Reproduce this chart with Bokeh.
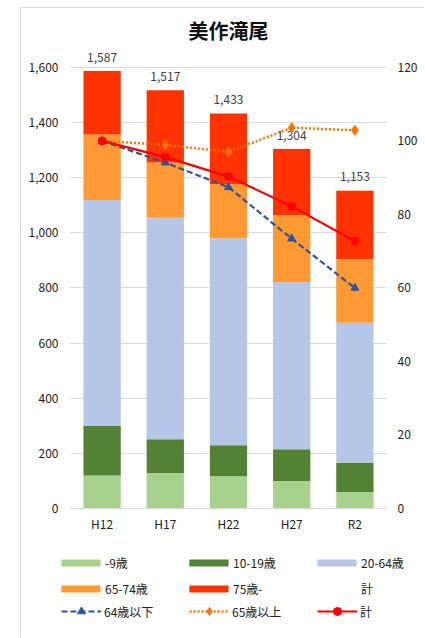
from bokeh.plotting import figure
from bokeh.models import (ColumnDataSource, Range1d, LinearAxis, Legend, LegendItem,
                          NumeralTickFormatter, FactorRange, Spacer)
from bokeh.layouts import row, column
from bokeh.core.properties import value
from bokeh.embed import file_html
from bokeh.resources import INLINE

years = ["H12", "H17", "H22", "H27", "R2"]
age_0_9 = [120, 129, 117, 100, 60]
age_10_19 = [179, 122, 112, 115, 105]
age_20_64 = [820, 804, 751, 607, 509]
age_65_74 = [238, 200, 197, 243, 231]
age_75 = [230, 262, 256, 239, 248]
totals = [1587, 1517, 1433, 1304, 1153]
total_labels = ["1,587", "1,517", "1,433", "1,304", "1,153"]
idx_under64 = [100.0, 94.1, 87.4, 73.4, 60.0]
idx_over65 = [100.0, 98.9, 97.0, 103.6, 102.9]
idx_total = [100.0, 95.6, 90.3, 82.2, 72.7]
left_ticks = [0, 200, 400, 600, 800, 1000, 1200, 1400, 1600]
right_ticks = [0, 20, 40, 60, 80, 100, 120]

bar_names = ["-9歳", "10-19歳", "20-64歳", "65-74歳", "75歳-"]
bar_colors = ["#A9D18E", "#548235", "#B4C7E7", "#FF9933", "#FF3300"]
line_names = ["64歳以下", "65歳以上", "計"]
FONT = "Noto Sans CJK JP"
BORDER = "1px solid #D9D9D9"

series = [age_0_9, age_10_19, age_20_64, age_65_74, age_75]
data = {"year": years, "total": totals, "lab": total_labels,
        "u64": idx_under64, "o65": idx_over65, "tot": idx_total}
bottoms = [0] * len(years)
for i, s in enumerate(series):
    data[f"b{i}"] = list(bottoms)
    bottoms = [b + v for b, v in zip(bottoms, s)]
    data[f"t{i}"] = list(bottoms)
src = ColumnDataSource(data)

line_specs = [
    ("u64", "#2F5597", 2.2, "6 3", "triangle", 8),
    ("o65", "#FF7300", 2.5, "2 2", "diamond", 10),
    ("tot", "#FF0000", 2.2, "solid", "circle", 8),
]


def add_series(fig, y_range_name="default"):
    bars = [fig.vbar(x="year", bottom=f"b{i}", top=f"t{i}", width=0.59,
                     source=src, fill_color=c, line_color=None)
            for i, c in enumerate(bar_colors)]
    blank = fig.vbar(x="year", top="total", width=0.59, source=src,
                     fill_alpha=0, line_alpha=0)
    return bars, blank


def add_lines(fig, y_range_name="default"):
    out = []
    for col, c, w, dash, mk, sz in line_specs:
        a = fig.line(x="year", y=col, source=src, y_range_name=y_range_name,
                     line_color=c, line_width=w, line_dash=dash)
        b = fig.scatter(x="year", y=col, source=src, y_range_name=y_range_name,
                        marker=mk, size=sz, fill_color=c, line_color=c)
        out.append([a, b])
    return out


YMAX = 1665
p = figure(width=404, height=537, x_range=FactorRange(*years, range_padding=0),
           y_range=Range1d(0, YMAX), output_backend="svg", toolbar_location=None,
           min_border_left=49, min_border_right=39, min_border_top=41,
           min_border_bottom=37)
p.styles = {"border-left": BORDER, "border-top": BORDER}
p.extra_y_ranges = {"idx": Range1d(0, YMAX * 120 / 1600)}
p.outline_line_color = None

p.title.text = "美作滝尾"
p.title.text_font = FONT
p.title.text_font_size = "20px"
p.title.text_font_style = "bold"
p.title.text_color = "#111111"
p.title.align = "center"
p.title.standoff = 9

add_series(p)
p.text(x="year", y="total", text="lab", source=src, text_align="center",
       text_baseline="middle", y_offset=-14, text_font=value(FONT),
       text_font_size="12px", text_color="#404040")
add_lines(p, "idx")

# axes
p.xaxis.axis_line_color = "#D9D9D9"
p.xaxis.major_tick_line_color = None
p.xaxis.major_tick_out = 0
p.xaxis.minor_tick_line_color = None
p.xaxis.major_label_text_font = FONT
p.xaxis.major_label_text_font_size = "12px"
p.xaxis.major_label_text_color = "#222222"
p.xaxis.major_label_standoff = 6

p.yaxis.axis_line_color = None
p.yaxis.major_tick_line_color = None
p.yaxis.major_tick_out = 0
p.yaxis.minor_tick_line_color = None
p.yaxis.ticker = left_ticks
p.yaxis.formatter = NumeralTickFormatter(format="0,0")
p.yaxis.major_label_text_font = FONT
p.yaxis.major_label_text_font_size = "12px"
p.yaxis.major_label_text_color = "#222222"
p.yaxis.major_label_standoff = 12

ax2 = LinearAxis(y_range_name="idx", ticker=right_ticks)
ax2.axis_line_color = None
ax2.major_tick_line_color = None
ax2.major_tick_out = 0
ax2.minor_tick_line_color = None
ax2.major_label_text_font = FONT
ax2.major_label_text_font_size = "12px"
ax2.major_label_text_color = "#222222"
ax2.major_label_standoff = 11
p.add_layout(ax2, "right")

p.xgrid.grid_line_color = None
p.ygrid.grid_line_color = "#D9D9D9"
p.ygrid.ticker = left_ticks

# legend panel: same series, drawn out of its visible range so only the legend shows
q = figure(width=404, height=93, x_range=FactorRange(*years), y_range=Range1d(10000, 10001),
           output_backend="svg", toolbar_location=None,
           x_axis_location=None, y_axis_location=None,
           min_border_left=0, min_border_right=0, min_border_top=0, min_border_bottom=0)
q.styles = {"border-left": BORDER}
q.outline_line_color = None
q.grid.visible = False
leg_bars, leg_blank = add_series(q)
leg_lines = add_lines(q)

bar_items = [LegendItem(label=n, renderers=[r]) for n, r in zip(bar_names, leg_bars)]
bar_items.append(LegendItem(label="計", renderers=[leg_blank]))
# legend fills column by column: reorder so it reads row by row
bar_items = [bar_items[i] for i in (0, 3, 1, 4, 2, 5)]

leg1 = Legend(items=bar_items,
              ncols=3, location=(35, 39), glyph_width=49, glyph_height=9,
              label_standoff=0, label_width=73, label_height=20, spacing=6,
              padding=0, margin=0, border_line_color=None, background_fill_alpha=0,
              label_text_font=FONT, label_text_font_size="12px",
              label_text_color="#222222")
leg2 = Legend(items=[LegendItem(label=n, renderers=rs) for n, rs in zip(line_names, leg_lines)],
              ncols=3, location=(40, 16), glyph_width=40, glyph_height=20,
              label_standoff=3, label_width=85, label_height=20, spacing=0,
              padding=0, margin=0, border_line_color=None, background_fill_alpha=0,
              label_text_font=FONT, label_text_font_size="12px",
              label_text_color="#222222")
q.add_layout(leg1, "center")
q.add_layout(leg2, "center")

layout = column(Spacer(width=10, height=7),
                row(Spacer(width=20, height=10), p),
                row(Spacer(width=20, height=10), q))
open("out.html", "w").write(file_html(layout, INLINE))
